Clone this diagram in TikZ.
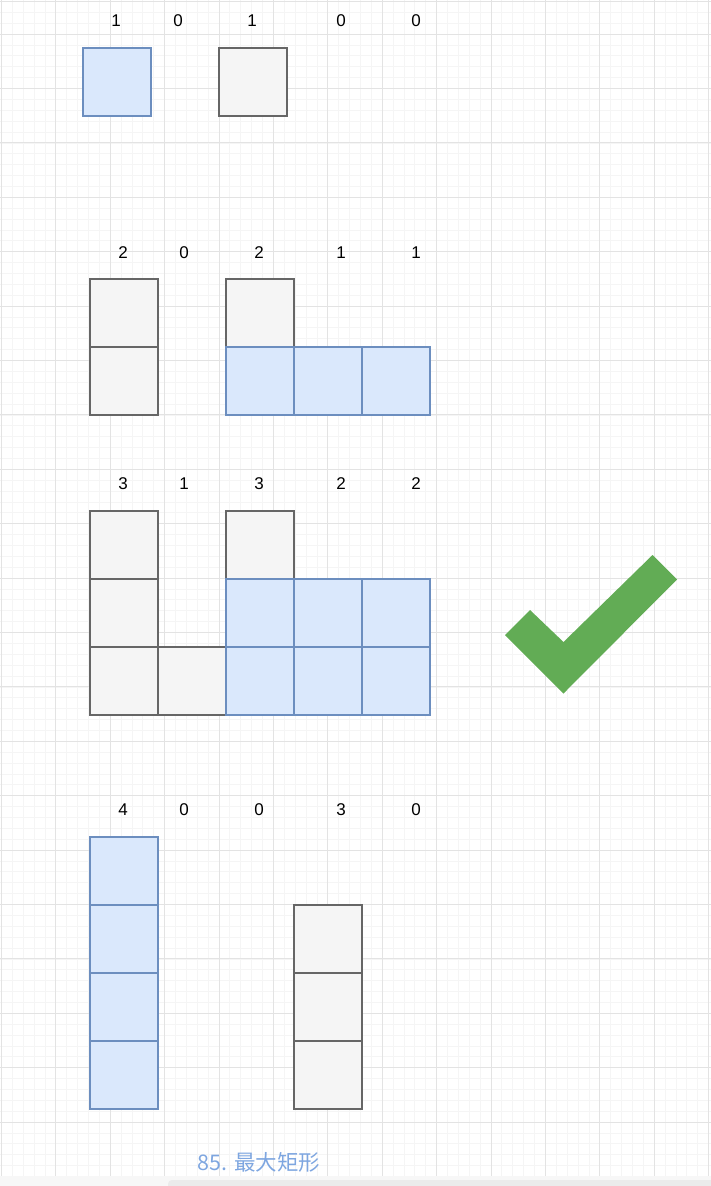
\documentclass[tikz,border=0pt]{standalone}
\usepackage{fontspec}
\setmainfont{Liberation Sans}
\newfontfamily\cjk{Noto Sans CJK SC}
\usepackage{tikz}

\definecolor{cellgray}{HTML}{F5F5F5}
\definecolor{edgegray}{HTML}{666666}
\definecolor{cellblue}{HTML}{DAE8FC}
\definecolor{edgeblue}{HTML}{6C8EBF}
\definecolor{checkgreen}{HTML}{62AC55}
\definecolor{titleblue}{HTML}{7EA6E0}

\tikzset{
  cell/.style={anchor=north west, minimum size=68pt, inner sep=0pt, outer sep=0pt, line width=1.1pt},
  graycell/.style={cell, draw=edgegray, fill=cellgray},
  bluecell/.style={cell, draw=edgeblue, fill=cellblue},
  height/.style={font=\fontsize{17}{20}\selectfont},
  minorline/.style={draw=black!4, line width=0.6pt},
  majorline/.style={draw=black!11, line width=0.8pt}
}

\begin{document}
\begin{tikzpicture}[x=1pt, y=-1pt]
      \useasboundingbox (0,0) rectangle (711,1186);

      % Draw the background grid
      \foreach \i in {0,...,65}
        \draw[minorline] ({1.3+10.88*\i},0) -- ({1.3+10.88*\i},1176);
      \foreach \i in {0,...,107}
        \draw[minorline] (0,{1.36+10.88*\i}) -- (711,{1.36+10.88*\i});
      \foreach \i in {0,...,13}
        \draw[majorline] ({1.3+54.4*\i},0) -- ({1.3+54.4*\i},1176);
      \foreach \i in {0,...,21}
        \draw[majorline] (0,{34-54.4+54.4*\i}) -- (711,{34-54.4+54.4*\i});
      \draw[majorline] (0,1.5) -- (711,1.5);

      % Row 1: heights 1 0 1 0 0
      \foreach \x/\h [count=\k] in {116/1, 178/0, 252/1, 341/0, 416/0}
        \node[height] (a\k) at (\x,21) {\h};
      \node[bluecell] (a1c1) at (83,48) {};
      \node[graycell] (a3c1) at (219,48) {};

      % Row 2: heights 2 0 2 1 1
      \foreach \x/\h [count=\k] in {123/2, 184/0, 259/2, 341/1, 416/1}
        \node[height] (b\k) at (\x,253) {\h};
      \node[graycell] (b1c2) at (90,279) {};
      \node[graycell] (b1c1) at (90,347) {};
      \node[graycell] (b3c2) at (226,279) {};
      \foreach \x [count=\k from 3] in {226,294,362}
        \node[bluecell] (b\k c1) at (\x,347) {};

      % Row 3: heights 3 1 3 2 2
      \foreach \x/\h [count=\k] in {123/3, 184/1, 259/3, 341/2, 416/2}
        \node[height] (c\k) at (\x,484) {\h};
      \foreach \y [count=\j] in {647,579,511}
        \node[graycell] (c1c\j) at (90,\y) {};
      \node[graycell] (c2c1) at (158,647) {};
      \node[graycell] (c3c3) at (226,511) {};
      \foreach \x [count=\k from 3] in {226,294,362}
        \foreach \y [count=\j] in {647,579}
          \node[bluecell] (c\k c\j) at (\x,\y) {};

      % Row 4: heights 4 0 0 3 0
      \foreach \x/\h [count=\k] in {123/4, 184/0, 259/0, 341/3, 416/0}
        \node[height] (d\k) at (\x,810) {\h};
      \foreach \y [count=\j] in {1041,973,905,837}
        \node[bluecell] (d1c\j) at (90,\y) {};
      \foreach \y [count=\j] in {1041,973,905}
        \node[graycell] (d4c\j) at (294,\y) {};

      % Check mark
      \fill[checkgreen] (505,635) -- (530,610) -- (563.5,642) -- (652.5,555)
        -- (677,579.5) -- (563.5,693.5) -- cycle;

      % Title
      \node[text=titleblue, font=\cjk\fontsize{21.5}{25}\selectfont] (title) at (259,1162) {85. 最大矩形};

      % Bottom scroll bar
      \fill[black!3] (0,1176) rectangle (711,1186);
      \fill[black!8, rounded corners=4pt] (168,1180) rectangle (715,1192);
    \end{tikzpicture}
\end{document}
